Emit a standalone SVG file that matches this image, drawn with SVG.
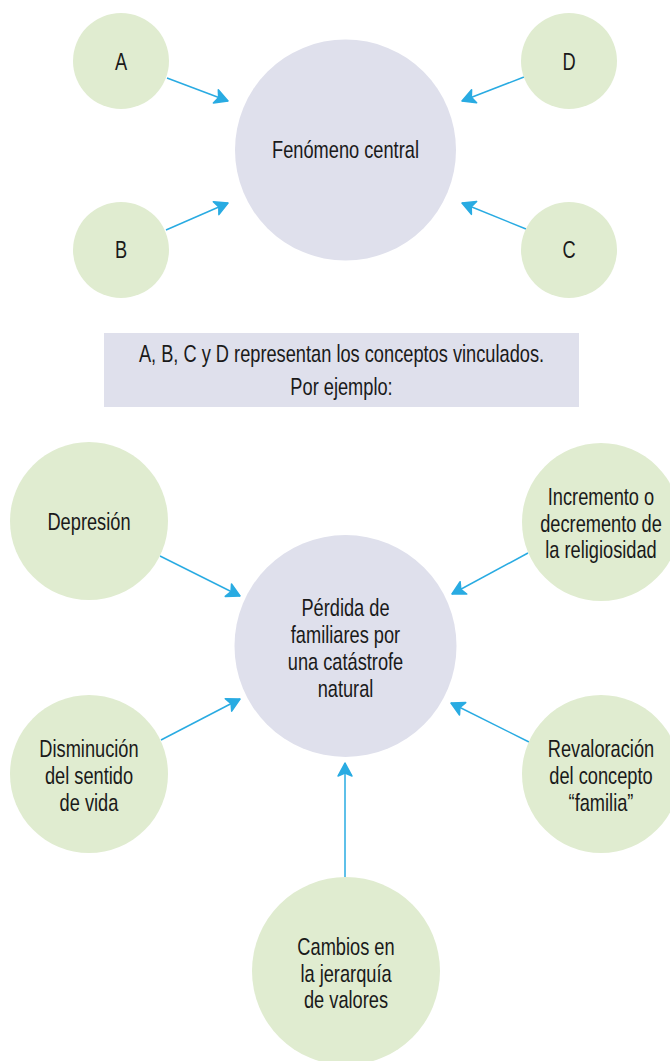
<svg xmlns="http://www.w3.org/2000/svg" width="670" height="1061" viewBox="0 0 670 1061">
<style>
.sat{fill:#e0ecd0}
.core{fill:#dfe0ec}
.t{font-family:"Liberation Sans",Arial,sans-serif;font-size:24px;fill:#1a1a1a;text-anchor:middle;transform-box:fill-box;transform-origin:center;transform:scaleX(0.76)}
.c{stroke:#29abe2;stroke-width:1.5;fill:none;marker-end:url(#ah)}
</style>
<defs>
<marker id="ah" markerUnits="userSpaceOnUse" markerWidth="20" markerHeight="20" viewBox="-2 -10 18 20" refX="13" refY="0" orient="auto">
<path d="M0,-7 L13,0 L0,7 L3,0 Z" fill="#29abe2" stroke="#29abe2" stroke-width="1.5" stroke-linejoin="round"/>
</marker>
</defs>
<rect width="670" height="1061" fill="#ffffff"/>
<g id="connectors">
<line class="c" x1="167" y1="78" x2="228" y2="101"/>
<line class="c" x1="166" y1="230" x2="228" y2="203"/>
<line class="c" x1="524" y1="77" x2="462" y2="101"/>
<line class="c" x1="526" y1="229" x2="462" y2="203"/>
<line class="c" x1="160" y1="556" x2="240" y2="596"/>
<line class="c" x1="161" y1="740" x2="240" y2="699"/>
<line class="c" x1="528" y1="553" x2="452" y2="594"/>
<line class="c" x1="529" y1="742" x2="451" y2="703"/>
<line class="c" x1="345" y1="877" x2="345" y2="763"/>
</g>
<g id="node-central">
<circle class="core" cx="345.5" cy="150" r="110.5"/>
<text class="t" x="345.5" y="158">Fenómeno central</text>
</g>
<g id="node-a">
<circle class="sat" cx="121" cy="61" r="48"/>
<text class="t" x="121" y="70">A</text>
</g>
<g id="node-b">
<circle class="sat" cx="121" cy="250" r="48"/>
<text class="t" x="121" y="258">B</text>
</g>
<g id="node-d">
<circle class="sat" cx="569" cy="61" r="48"/>
<text class="t" x="569" y="70">D</text>
</g>
<g id="node-c">
<circle class="sat" cx="569" cy="250" r="48"/>
<text class="t" x="569" y="258">C</text>
</g>
<g id="note">
<rect x="104" y="333" width="475" height="74" fill="#dfe0ec"/>
<text class="t" x="341.5" y="362">A, B, C y D representan los conceptos vinculados.</text>
<text class="t" x="341.5" y="395">Por ejemplo:</text>
</g>
<g id="node-perdida">
<circle class="core" cx="345.5" cy="646" r="111"/>
<text class="t" x="345.5" y="616">Pérdida de</text>
<text class="t" x="345.5" y="643">familiares por</text>
<text class="t" x="345.5" y="670">una catástrofe</text>
<text class="t" x="345.5" y="697">natural</text>
</g>
<g id="node-depresion">
<circle class="sat" cx="89" cy="521" r="79"/>
<text class="t" x="89" y="530">Depresión</text>
</g>
<g id="node-disminucion">
<circle class="sat" cx="89" cy="774" r="79"/>
<text class="t" x="89" y="757">Disminución</text>
<text class="t" x="89" y="784">del sentido</text>
<text class="t" x="89" y="811">de vida</text>
</g>
<g id="node-incremento">
<circle class="sat" cx="601" cy="522" r="79"/>
<text class="t" x="601" y="505">Incremento o</text>
<text class="t" x="601" y="532">decremento de</text>
<text class="t" x="601" y="558">la religiosidad</text>
</g>
<g id="node-revaloracion">
<circle class="sat" cx="601" cy="774" r="79"/>
<text class="t" x="601" y="757">Revaloración</text>
<text class="t" x="601" y="784">del concepto</text>
<text class="t" x="601" y="811">“familia”</text>
</g>
<g id="node-cambios">
<circle class="sat" cx="346" cy="971" r="94"/>
<text class="t" x="346" y="955">Cambios en</text>
<text class="t" x="346" y="982">la jerarquía</text>
<text class="t" x="346" y="1008">de valores</text>
</g>
</svg>
